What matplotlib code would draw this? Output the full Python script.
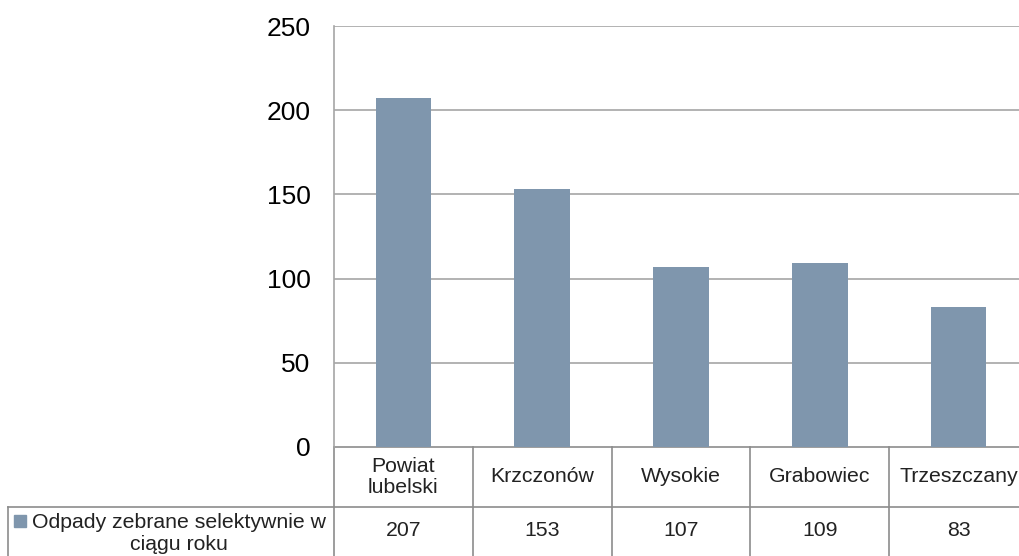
import matplotlib.pyplot as plt
from matplotlib.patches import Rectangle
from matplotlib.transforms import blended_transform_factory

plt.rcParams["font.family"] = ["Liberation Sans", "DejaVu Sans"]

categories = ["Powiat\nlubelski", "Krzczonów", "Wysokie", "Grabowiec", "Trzeszczany"]
values = [207, 153, 107, 109, 83]
series_name = "Odpady zebrane selektywnie w\nciągu roku"
yticks = [0, 50, 100, 150, 200, 250]

BAR = "#7f96ad"
GRID = "#a6a6a6"
BORDER = "#8c8c8c"

W, H = 1020, 556
fig = plt.figure(figsize=(W / 100, H / 100), dpi=100)
# plot area runs past the right edge, like the cropped original
ax = fig.add_axes([334 / W, 1 - 447 / H, (1028 - 334) / W, (447 - 26) / H])

x = list(range(len(values)))
ax.bar(x, values, width=0.40, color=BAR, zorder=3)
ax.set_xlim(-0.5, len(values) - 0.5)
ax.set_ylim(0, 250)
ax.set_yticks(yticks)
ax.tick_params(axis="y", length=0, pad=17, labelsize=19)
ax.set_xticks([])
for yv in yticks[1:]:
    ax.axhline(yv, color=GRID, lw=1.2, zorder=1)
for s in ["top", "right", "bottom"]:
    ax.spines[s].set_visible(False)
ax.spines["left"].set_color(GRID)
ax.spines["left"].set_linewidth(1.2)

# data table under the plot
ax_h = 447 - 26
row1 = -60 / ax_h          # bottom of the header row, axes fraction
row2 = -115 / ax_h         # past the bottom edge
tr = ax.get_xaxis_transform()
ftr = blended_transform_factory(fig.transFigure, ax.transAxes)

ax.plot([-0.5, len(values) - 0.5], [0, 0], transform=tr, color=BORDER,
        lw=1.2, clip_on=False)
ax.plot([8 / W, 1.0], [row1, row1], transform=ftr, color=BORDER,
        lw=1.2, clip_on=False)
for b in [i - 0.5 for i in range(len(values) + 1)]:
    ax.plot([b, b], [0, row2], transform=tr, color=BORDER, lw=1.2, clip_on=False)
ax.plot([8 / W, 8 / W], [row1, row2], transform=ftr, color=BORDER,
        lw=1.2, clip_on=False)

for xi, cat, v in zip(x, categories, values):
    ax.text(xi, row1 / 2, cat, transform=tr, ha="center", va="center",
            fontsize=15.3, color="#222222", linespacing=1.15, clip_on=False)
    ax.text(xi, -84 / ax_h, str(v), transform=tr, ha="center", va="center",
            fontsize=15.3, color="#222222", clip_on=False)

ax.text(179 / W, -87 / ax_h, series_name, transform=ftr, ha="center",
        va="center", fontsize=15.3, color="#222222", linespacing=1.2,
        multialignment="center", clip_on=False)
fig.add_artist(Rectangle((14 / W, 1 - 527 / H), 12 / W, 12 / H,
                         transform=fig.transFigure, color=BAR))

fig.savefig("out.png", dpi=100)
